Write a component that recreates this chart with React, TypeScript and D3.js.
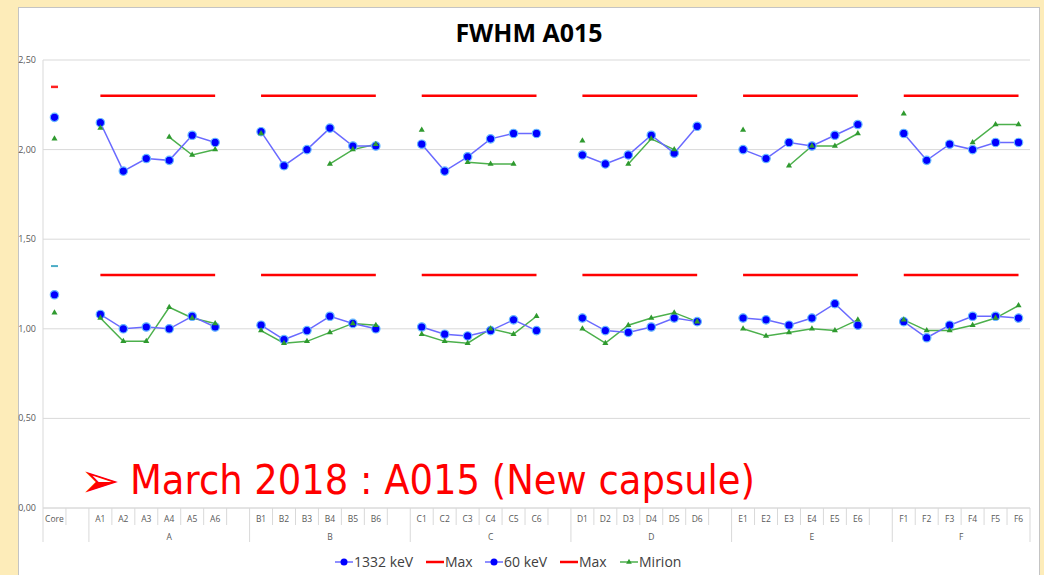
import React from 'react';
import * as d3 from 'd3';

// category groups on the x axis
const groups = ['A', 'B', 'C', 'D', 'E', 'F'];
const yTicks = [0, 0.5, 1, 1.5, 2, 2.5];

// core values
const coreKeV1332 = 2.18;
const coreMax1332 = 2.35;
const coreMirionHi = 2.06;
const coreKeV60 = 1.19;
const coreMax60 = 1.35;
const coreMirionLo = 1.09;

// Max limits per group
const maxHi = [2.3, 2.3, 2.3, 2.3, 2.3, 2.3];
const maxLo = [1.3, 1.3, 1.3, 1.3, 1.3, 1.3];

// 1332 keV, segments 1..6 per group
const keV1332 = [
  [2.15, 1.88, 1.95, 1.94, 2.08, 2.04],
  [2.10, 1.91, 2.00, 2.12, 2.02, 2.02],
  [2.03, 1.88, 1.96, 2.06, 2.09, 2.09],
  [1.97, 1.92, 1.97, 2.08, 1.98, 2.13],
  [2.00, 1.95, 2.04, 2.02, 2.08, 2.14],
  [2.09, 1.94, 2.03, 2.00, 2.04, 2.04],
];
const mirionHi = [
  [2.12, null, null, 2.07, 1.97, 2.00],
  [2.09, null, null, 1.92, 2.00, 2.03],
  [2.11, null, 1.93, 1.92, 1.92, null],
  [2.05, null, 1.92, 2.06, 2.00, null],
  [2.11, null, 1.91, 2.02, 2.02, 2.09],
  [2.20, null, null, 2.04, 2.14, 2.14],
];

// 60 keV
const keV60 = [
  [1.08, 1.00, 1.01, 1.00, 1.07, 1.01],
  [1.02, 0.94, 0.99, 1.07, 1.03, 1.00],
  [1.01, 0.97, 0.96, 0.99, 1.05, 0.99],
  [1.06, 0.99, 0.98, 1.01, 1.06, 1.04],
  [1.06, 1.05, 1.02, 1.06, 1.14, 1.02],
  [1.04, 0.95, 1.02, 1.07, 1.07, 1.06],
];
const mirionLo = [
  [1.06, 0.93, 0.93, 1.12, 1.06, 1.03],
  [0.99, 0.92, 0.93, 0.98, 1.03, 1.02],
  [0.97, 0.93, 0.92, 1.00, 0.97, 1.07],
  [1.00, 0.92, 1.02, 1.06, 1.09, 1.04],
  [1.00, 0.96, 0.98, 1.00, 0.99, 1.05],
  [1.05, 0.99, 0.99, 1.02, 1.06, 1.13],
];

type V = number | null;

// build the flat category list: Core, blank, A1..A6, blank, ... F1..F6
const cats: { label: string; group: string }[] = [{ label: 'Core', group: '' }, { label: '', group: '' }];
groups.forEach((g, gi) => {
  for (let i = 1; i <= 6; i++) cats.push({ label: g + i, group: g });
  if (gi < groups.length - 1) cats.push({ label: '', group: g });
});

function place(core: V, rows: V[][]): V[] {
  const out: V[] = [core, null];
  rows.forEach((r, gi) => {
    r.forEach((v) => out.push(v));
    if (gi < rows.length - 1) out.push(null);
  });
  return out;
}

const s1332 = place(coreKeV1332, keV1332);
const sMirHi = place(coreMirionHi, mirionHi);
const s60 = place(coreKeV60, keV60);
const sMirLo = place(coreMirionLo, mirionLo);
const sMaxHi = place(null, maxHi.map((m) => [m, m, m, m, m, m]));
const sMaxLo = place(null, maxLo.map((m) => [m, m, m, m, m, m]));

const W = 1044;
const H = 575;
const left = 43;
const right = 1030;
const top = 60;
const bottom = 508;

const x = d3.scaleBand<number>().domain(d3.range(cats.length)).range([left, right]).padding(0);
const cx = (i: number) => (x(i) as number) + x.bandwidth() / 2;
const y = d3.scaleLinear().domain([0, 2.5]).range([bottom, top]);

const line = d3.line<V>()
  .defined((d) => d != null)
  .x((d, i) => cx(i))
  .y((d) => y(d as number));

const fmt = (v: number) => v.toFixed(2).replace('.', ',');

const blueLine = '#6a6aff';
const blueDot = '#0000ff';
const greenLine = '#4cb04c';
const greenDot = '#2f9a2f';

function Dots({ data }: { data: V[] }) {
  return (
    <g>
      {data.map((d, i) => d == null ? null : (
        <circle key={i} cx={cx(i)} cy={y(d)} r={4.2} fill={blueDot} stroke="#66b8ff" strokeWidth={1.2} />
      ))}
    </g>
  );
}

function Tris({ data }: { data: V[] }) {
  const sym = d3.symbol().type(d3.symbolTriangle).size(16)();
  return (
    <g>
      {data.map((d, i) => d == null ? null : (
        <path key={i} d={sym as string} transform={`translate(${cx(i)},${y(d)})`} fill={greenDot} />
      ))}
    </g>
  );
}

export default function App() {
  const boundaries = d3.range(cats.length + 1);
  const groupStarts = [0, 2, 9, 16, 23, 30, 37, 43];
  const bx = (i: number) => left + i * x.bandwidth();
  const groupSpans = [{ g: '', a: 0, b: 2 }].concat(groups.map((g, gi) => ({ g, a: groupStarts[gi + 1], b: groupStarts[gi + 2] })));

  const legend = [
    { x: 335, label: '1332 keV', color: blueLine, mark: 'dot' },
    { x: 426, label: 'Max', color: '#ff0000', mark: 'none' },
    { x: 485, label: '60 keV', color: blueLine, mark: 'dot' },
    { x: 560, label: 'Max', color: '#ff0000', mark: 'none' },
    { x: 620, label: 'Mirion', color: greenLine, mark: 'tri' },
  ];

  return (
    <svg width={W} height={H} style={{ position: 'fixed', left: 0, top: 0 }} fontFamily="'Open Sans', sans-serif">
      <rect x={0} y={0} width={W} height={H} fill="#fdecb9" />
      <rect x={18.5} y={7.5} width={1021} height={H} fill="#ffffff" stroke="#c4c4c4" />

      <text x={529} y={42} textAnchor="middle" fontSize={25} fontWeight="bold" fill="#000">FWHM A015</text>

      {/* gridlines and y labels */}
      {yTicks.map((t) => (
        <g key={t}>
          <line x1={left} x2={right} y1={y(t)} y2={y(t)} stroke={t === 0 ? '#c8c8c8' : '#d9d9d9'} strokeWidth={1} />
          <text x={36} y={y(t) + 3} textAnchor="end" fontSize={9} fill="#595959">{fmt(t)}</text>
        </g>
      ))}
      <line x1={left} x2={left} y1={top} y2={bottom} stroke="#d9d9d9" />

      {/* category axis */}
      {boundaries.map((b) => {
        const long = groupStarts.includes(b);
        return <line key={b} x1={bx(b)} x2={bx(b)} y1={bottom} y2={long ? 542 : 525} stroke="#d9d9d9" />;
      })}
      {cats.map((c, i) => (
        <text key={i} x={cx(i)} y={522} textAnchor="middle" fontSize={8.5} fill="#595959">{c.label}</text>
      ))}
      {groupSpans.map((s) => (
        <text key={s.g + s.a} x={(bx(s.a) + bx(s.b)) / 2} y={540} textAnchor="middle" fontSize={8.5} fill="#595959">{s.g}</text>
      ))}

      {/* Max lines */}
      <path d={line(sMaxHi) || ''} fill="none" stroke="#ff0000" strokeWidth={2.5} />
      <path d={line(sMaxLo) || ''} fill="none" stroke="#ff0000" strokeWidth={2.5} />
      <line x1={cx(0) - 3.5} x2={cx(0) + 3.5} y1={y(coreMax1332)} y2={y(coreMax1332)} stroke="#ff2020" strokeWidth={2.5} />
      <line x1={cx(0) - 3.5} x2={cx(0) + 3.5} y1={y(coreMax60)} y2={y(coreMax60)} stroke="#4bacc6" strokeWidth={2} />

      {/* Mirion */}
      <path d={line(sMirHi) || ''} fill="none" stroke={greenLine} strokeWidth={1.5} />
      <path d={line(sMirLo) || ''} fill="none" stroke={greenLine} strokeWidth={1.5} />

      {/* 1332 keV and 60 keV */}
      <path d={line(s1332) || ''} fill="none" stroke={blueLine} strokeWidth={1.5} />
      <path d={line(s60) || ''} fill="none" stroke={blueLine} strokeWidth={1.5} />
      <Dots data={s1332} />
      <Dots data={s60} />
      <Tris data={sMirHi} />
      <Tris data={sMirLo} />

      {/* annotation */}
      <text x={80} y={497} fontSize={48} fill="#ff0000" fontFamily="'DejaVu Sans', sans-serif">➢</text>
      <text x={130} y={494} fontSize={40} fill="#ff0000" fontFamily="'DejaVu Sans', sans-serif" textLength={625} lengthAdjust="spacingAndGlyphs">March 2018 : A015 (New capsule)</text>

      {/* legend */}
      {legend.map((l) => (
        <g key={l.x}>
          <line x1={l.x} x2={l.x + 18} y1={562} y2={562} stroke={l.color} strokeWidth={l.mark === 'none' ? 2.5 : 1.5} />
          {l.mark === 'dot' && <circle cx={l.x + 9} cy={562} r={3.5} fill={blueDot} />}
          {l.mark === 'tri' && <path d={d3.symbol().type(d3.symbolTriangle).size(14)() as string} transform={`translate(${l.x + 9},562)`} fill={greenDot} />}
          <text x={l.x + 19} y={567} fontSize={14} fill="#404040">{l.label}</text>
        </g>
      ))}
    </svg>
  );
}
